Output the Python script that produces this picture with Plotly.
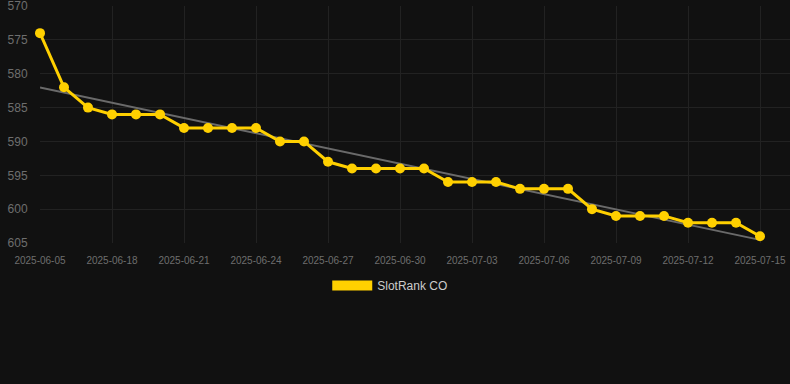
import numpy as np
import plotly.graph_objects as go

dates = ["2025-06-05", "2025-06-16", "2025-06-17", "2025-06-18", "2025-06-19", "2025-06-20",
         "2025-06-21", "2025-06-22", "2025-06-23", "2025-06-24", "2025-06-25", "2025-06-26",
         "2025-06-27", "2025-06-28", "2025-06-29", "2025-06-30", "2025-07-01", "2025-07-02",
         "2025-07-03", "2025-07-04", "2025-07-05", "2025-07-06", "2025-07-07", "2025-07-08",
         "2025-07-09", "2025-07-10", "2025-07-11", "2025-07-12", "2025-07-13", "2025-07-14",
         "2025-07-15"]
ranks = [574, 582, 585, 586, 586, 586, 588, 588, 588, 588, 590, 590, 593, 594, 594, 594,
         594, 596, 596, 596, 597, 597, 597, 600, 601, 601, 601, 602, 602, 602, 604]
series_name = "SlotRank CO"
tick_labels = dates[0:1] + dates[3::3]
y_ticks = [570, 575, 580, 585, 590, 595, 600, 605]

idx = np.arange(len(ranks))
slope, intercept = np.polyfit(idx, ranks, 1)
trend = (slope * idx + intercept).tolist()

YELLOW = "#FFD000"
fig = go.Figure()
fig.add_trace(go.Scatter(x=dates, y=trend, mode="lines",
                         line=dict(color="#6a6a6a", width=2), showlegend=False,
                         hoverinfo="skip", cliponaxis=False))
fig.add_trace(go.Scatter(x=dates, y=ranks, mode="lines+markers",
                         line=dict(color=YELLOW, width=3),
                         marker=dict(color=YELLOW, size=10), showlegend=False,
                         cliponaxis=False))
fig.add_trace(go.Scatter(x=[None], y=[None], mode="lines", name=series_name,
                         line=dict(color=YELLOW, width=12)))

fig.update_layout(
    width=790, height=384,
    margin=dict(l=40, r=0, t=6, b=141),
    paper_bgcolor="#111111", plot_bgcolor="#111111",
    font=dict(family="Liberation Sans, Arial, sans-serif", color="#6e6e6e"),
    showlegend=True,
    legend=dict(orientation="h", x=0.467, xanchor="center", y=-0.118, yanchor="top",
                itemwidth=40, font=dict(color="#cccccc", size=12)),
    xaxis=dict(type="category", range=[0, 31.25], tickmode="array",
               tickvals=tick_labels, ticktext=tick_labels,
               showgrid=True, gridcolor="#222222", gridwidth=1,
               zeroline=False, showline=False, ticklabeloverflow="allow",
               ticks="outside", ticklen=8, tickcolor="rgba(0,0,0,0)",
               tickfont=dict(size=10, color="#6e6e6e"), tickangle=0),
    yaxis=dict(range=[605, 569.99], tickvals=y_ticks,
               showgrid=True, gridcolor="#222222", gridwidth=1,
               zeroline=False, showline=False, ticklabeloverflow="allow",
               ticks="outside", ticklen=9, tickcolor="rgba(0,0,0,0)",
               tickfont=dict(size=12, color="#6e6e6e")),
)

fig.write_html("out.html", config={"displayModeBar": False},
               post_script="document.body.style.margin='0';document.body.style.background='#111111';")
